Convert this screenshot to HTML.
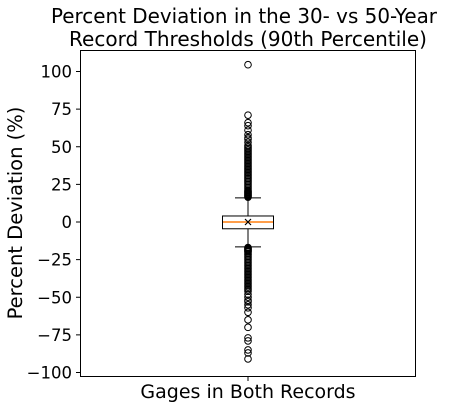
<!DOCTYPE html>
<html><head><meta charset="utf-8"><style>
body{margin:0;background:#fff;}
svg{display:block;font-family:"DejaVu Sans","Liberation Sans",sans-serif;}
</style></head><body>
<svg id="chart" width="452" height="408" viewBox="0 0 452 408" xmlns="http://www.w3.org/2000/svg">
<rect width="452" height="408" fill="#fff"/>
<text x="244" y="23" font-size="20" text-anchor="middle" textLength="386" lengthAdjust="spacingAndGlyphs">Percent Deviation in the 30- vs 50-Year</text>
<text x="248" y="46" font-size="20" text-anchor="middle" textLength="358" lengthAdjust="spacingAndGlyphs">Record Thresholds (90th Percentile)</text>
<rect x="80.5" y="50.5" width="335" height="326" fill="none" stroke="#000" stroke-width="1"/>
<g id="yticks"></g>
<g id="marks"></g>
<line x1="248" y1="377" x2="248" y2="381" stroke="#000"/>
<text x="248" y="398" font-size="19" text-anchor="middle">Gages in Both Records</text>
<text transform="translate(22,213) rotate(-90)" font-size="19.5" text-anchor="middle">Percent Deviation (%)</text>
</svg>
<script>
const yTicks=[100,75,50,25,0,-25,-50,-75,-100];
const stats={whiskerLow:-16.5,q1:-4.5,median:0,q3:4,whiskerHigh:16,mean:0};
const outliersHigh=[104.5,71,66,64,61,58,56,55,53,51,50,49,48,47,46,45,44,43,42,41,40,39,38,37,36,35,34,33,32,31,30,29,28,27,26,25,24,23,22,21,20.5,20,19.5,19,18.5,18,17.5,17,16.5];
const outliersLow=[-17,-17.5,-18,-18.5,-19,-19.5,-20,-21,-22,-23,-24,-25,-26,-27,-28,-29,-30,-31,-32,-33,-34,-35,-36,-37,-38,-39,-40,-41,-42,-43,-44,-45,-46,-48,-50,-52,-53,-55,-57,-60,-65,-70,-77,-79,-85,-87,-91];
const ns="http://www.w3.org/2000/svg";
const yScale=v=>222-v*1.505;
const cx=248;
function mk(t,a,p){const e=document.createElementNS(ns,t);for(const k in a)e.setAttribute(k,a[k]);p.appendChild(e);return e;}
const yt=document.getElementById('yticks');
yTicks.forEach(v=>{
  const y=yScale(v);
  const l=mk('line',{x1:76,x2:80,y1:y,y2:y,stroke:'#000'},yt);
  
  
  const t=mk('text',{x:72,y:y+6,'font-size':16.5,'text-anchor':'end'},yt);
  t.textContent=v<0?'\u2212'+Math.abs(v):String(v);
  
  
});
const g=document.getElementById('marks');
const w1=mk('line',{x1:cx,x2:cx,y1:yScale(stats.q3),y2:yScale(stats.whiskerHigh),stroke:'#000'},g);


const w2=mk('line',{x1:cx,x2:cx,y1:yScale(stats.q1),y2:yScale(stats.whiskerLow),stroke:'#000'},g);


const c1=mk('line',{x1:235,x2:261,y1:yScale(stats.whiskerHigh),y2:yScale(stats.whiskerHigh),stroke:'#000'},g);


const c2=mk('line',{x1:235,x2:261,y1:yScale(stats.whiskerLow),y2:yScale(stats.whiskerLow),stroke:'#000'},g);


const box=mk('rect',{x:222.5,y:yScale(stats.q3),width:51,height:yScale(stats.q1)-yScale(stats.q3),fill:'none',stroke:'#000'},g);


const med=mk('line',{x1:223,x2:273,y1:yScale(stats.median),y2:yScale(stats.median),stroke:'#ff7f0e','stroke-width':1.5},g);


const my=yScale(stats.mean);
const mean=mk('path',{d:`M${cx-3} ${my-3}L${cx+3} ${my+3}M${cx-3} ${my+3}L${cx+3} ${my-3}`,stroke:'#000','stroke-width':1.2},g);


outliersHigh.concat(outliersLow).forEach(v=>{
  const c=mk('circle',{cx:cx,cy:yScale(v),r:3.3,fill:'none',stroke:'#000','stroke-width':1},g);
  
  
});
</script>
</body></html>
